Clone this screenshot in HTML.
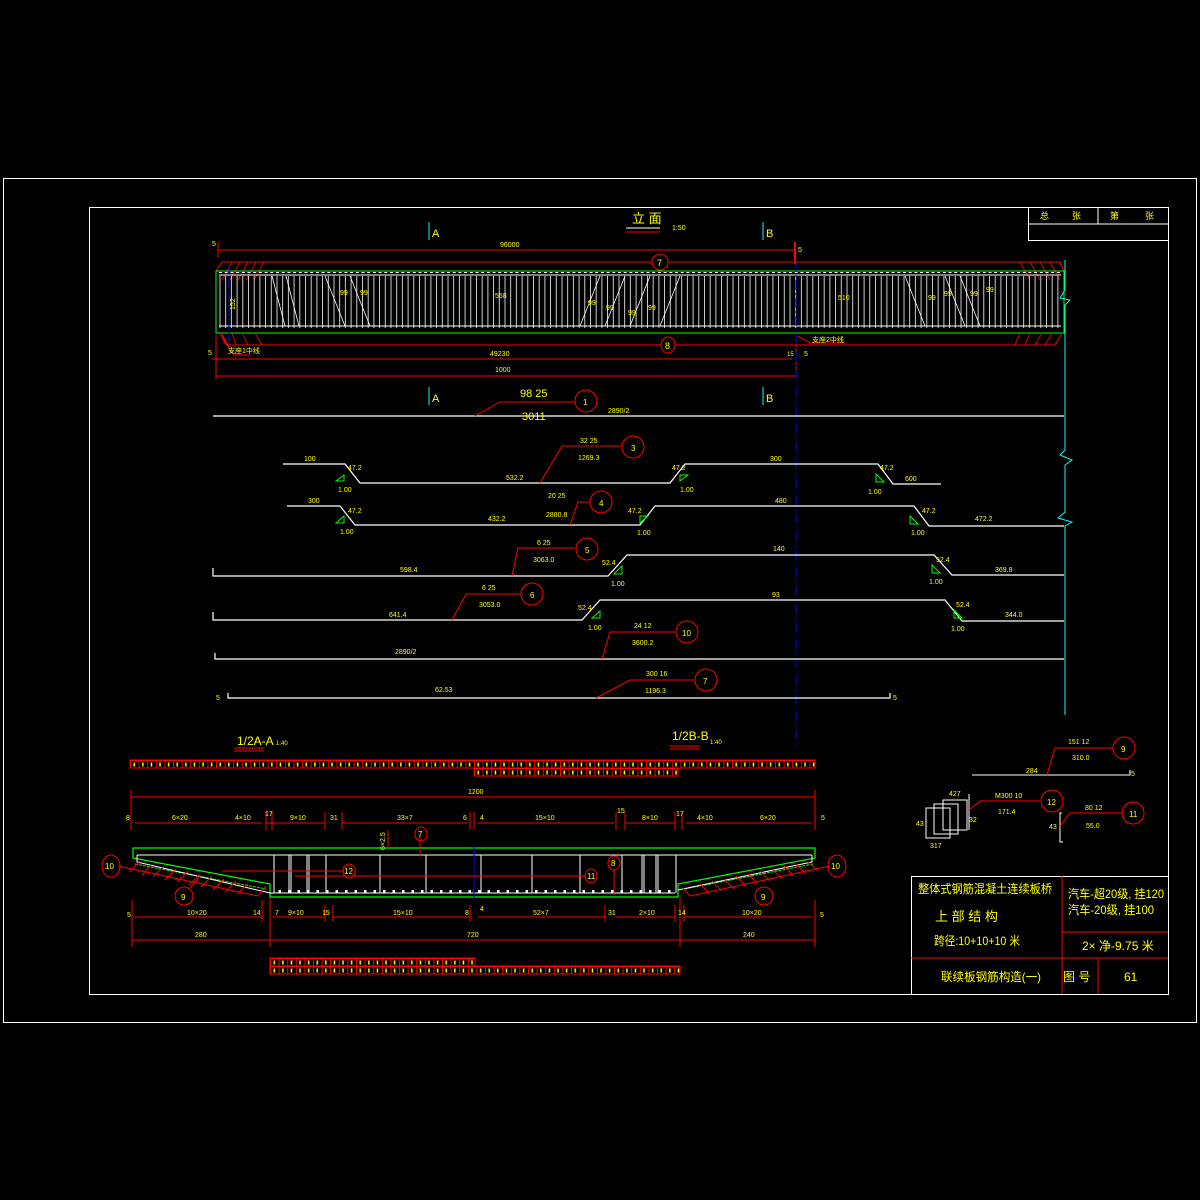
<!DOCTYPE html>
<html><head><meta charset="utf-8"><style>
html,body{margin:0;padding:0;background:#000;}
svg{display:block}
text{font-family:"Liberation Sans","Noto Sans CJK SC",sans-serif;fill:#ff0;}
</style></head><body>
<svg width="1200" height="1200" viewBox="0 0 1200 1200" xmlns="http://www.w3.org/2000/svg">
<defs>
<pattern id="vl" x="219" y="0" width="5.7" height="10" patternUnits="userSpaceOnUse">
<line x1="1" y1="0" x2="1" y2="10" stroke="#fff" stroke-width="0.8"/>
</pattern>
<pattern id="tk" x="219" y="0" width="5.7" height="10" patternUnits="userSpaceOnUse">
<rect x="0" y="0" width="3" height="3" fill="#fff"/>
</pattern>
<pattern id="cell" x="130" y="760" width="8.6" height="8" patternUnits="userSpaceOnUse">
<rect x="0.5" y="0.5" width="8.6" height="8" fill="none" stroke="#f00" stroke-width="1"/>
<rect x="3.5" y="2.5" width="1.5" height="4" fill="#ff0"/>
</pattern>
<pattern id="cell2" x="270" y="958" width="8.6" height="8" patternUnits="userSpaceOnUse">
<rect x="0.5" y="0.5" width="8.6" height="8" fill="none" stroke="#f00" stroke-width="1"/>
<rect x="3.5" y="2.5" width="1.5" height="4" fill="#ff0"/>
</pattern>
<pattern id="cell3" x="474" y="768" width="8.6" height="8" patternUnits="userSpaceOnUse">
<rect x="0.5" y="0.5" width="8.6" height="8" fill="none" stroke="#f00" stroke-width="1"/>
<rect x="3.5" y="2.5" width="1.5" height="4" fill="#ff0"/>
</pattern>
<pattern id="dots" x="0" y="0" width="9.5" height="10" patternUnits="userSpaceOnUse">
<rect x="3" y="0" width="2.5" height="2.5" fill="#fff"/>
</pattern>
</defs>
<rect width="1200" height="1200" fill="#000"/>
<rect x="3.5" y="178.5" width="1193" height="844" fill="none" stroke="#fff"/>
<rect x="89.5" y="207.5" width="1079" height="787" fill="none" stroke="#fff"/>
<rect x="1028.5" y="207.5" width="140" height="33" fill="none" stroke="#fff"/>
<line x1="1028" y1="224" x2="1168" y2="224" stroke="#fff"/>
<line x1="1098" y1="207" x2="1098" y2="224" stroke="#fff"/>
<text x="1040" y="219" font-size="9">总</text><text x="1072" y="219" font-size="9">张</text><text x="1110" y="219" font-size="9">第</text><text x="1145" y="219" font-size="9">张</text>

<text x="632" y="223" font-size="13">立 面</text><text x="672" y="230" font-size="7">1:50</text>
<line x1="626" y1="228" x2="660" y2="228" stroke="#fff"/>
<line x1="626" y1="232" x2="660" y2="232" stroke="#f00"/>
<line x1="429" y1="222" x2="429" y2="240" stroke="#0ff"/><text x="432" y="237" font-size="11">A</text>
<line x1="763" y1="222" x2="763" y2="240" stroke="#0ff"/><text x="766" y="237" font-size="11">B</text>
<line x1="218" y1="250" x2="795" y2="250" stroke="#f00"/>
<line x1="218" y1="242" x2="218" y2="258" stroke="#f00"/>
<line x1="795" y1="242" x2="795" y2="264" stroke="#f00" stroke-width="2"/>
<text x="212" y="246" font-size="7">5</text><text x="798" y="252" font-size="7">5</text>
<text x="500" y="247" font-size="7">96000</text>
<polyline points="216,271 222,262 1060,262 1064,271" fill="none" stroke="#f00"/>
<ellipse cx="660" cy="262" rx="8" ry="8" fill="#000" stroke="#f00"/><text x="657" y="266" font-size="9">7</text>
<g stroke="#f00" stroke-width="0.8">
<line x1="222" y1="280" x2="232" y2="262"/><line x1="230" y1="280" x2="240" y2="262"/><line x1="238" y1="280" x2="248" y2="262"/><line x1="246" y1="280" x2="256" y2="262"/><line x1="254" y1="280" x2="264" y2="262"/>
<line x1="1020" y1="262" x2="1030" y2="280"/><line x1="1030" y1="262" x2="1040" y2="280"/><line x1="1040" y1="262" x2="1050" y2="280"/><line x1="1050" y1="262" x2="1060" y2="280"/>
</g>
<rect x="216" y="271" width="848" height="62" fill="none" stroke="#0f0"/>
<rect x="219" y="276" width="842" height="52" fill="url(#vl)"/>
<line x1="219" y1="275" x2="1061" y2="275" stroke="#fff"/>
<line x1="219" y1="326" x2="1061" y2="326" stroke="#fff"/>
<rect x="219" y="272" width="842" height="3" fill="url(#tk)"/>
<rect x="219" y="327" width="842" height="3" fill="url(#tk)"/>
<g stroke="#fff" stroke-width="0.8">
<line x1="272" y1="276" x2="285" y2="326"/><line x1="286" y1="276" x2="299" y2="326"/>
<line x1="325" y1="276" x2="345" y2="326"/><line x1="350" y1="276" x2="370" y2="326"/>
<line x1="600" y1="276" x2="580" y2="326"/><line x1="625" y1="276" x2="605" y2="326"/><line x1="650" y1="276" x2="630" y2="326"/><line x1="680" y1="276" x2="660" y2="326"/>
<line x1="905" y1="276" x2="925" y2="326"/><line x1="945" y1="276" x2="965" y2="326"/><line x1="960" y1="276" x2="980" y2="326"/>
</g>
<g font-size="7" fill="#ff0">
<text x="235" y="310" transform="rotate(-90 235 310)">152</text>
<text x="340" y="295">99</text><text x="360" y="295">99</text><text x="495" y="298">558</text>
<text x="588" y="305">99</text><text x="606" y="310">99</text><text x="628" y="315">99</text><text x="648" y="310">99</text>
<text x="838" y="300">510</text><text x="928" y="300">99</text><text x="944" y="296">99</text><text x="970" y="296">99</text><text x="986" y="292">99</text>
</g>
<line x1="229" y1="266" x2="229" y2="345" stroke="#00f" stroke-dasharray="8,2,2,2"/>
<polyline points="1065,260 1065,290 1060,298 1070,300 1065,305 1065,450 1060,455 1072,460 1065,465 1065,512 1058,518 1072,522 1065,526 1065,715" fill="none" stroke="#0ff"/>
<polyline points="220,333 226,345 1055,345 1062,333" fill="none" stroke="#f00"/>
<g stroke="#f00" stroke-width="0.8">
<line x1="222" y1="333" x2="226" y2="345"/><line x1="232" y1="333" x2="236" y2="345"/><line x1="242" y1="333" x2="248" y2="345"/><line x1="255" y1="333" x2="262" y2="345"/>
<line x1="1015" y1="345" x2="1020" y2="333"/><line x1="1025" y1="345" x2="1030" y2="333"/><line x1="1035" y1="345" x2="1042" y2="333"/><line x1="1045" y1="345" x2="1052" y2="333"/>
</g>
<ellipse cx="668" cy="345" rx="7" ry="8" fill="#000" stroke="#f00"/><text x="665" y="349" font-size="9">8</text>
<polyline points="223,336 230,350 235,355 250,355" fill="none" stroke="#f00"/>
<text x="228" y="353" font-size="7">支座1中线</text>
<polyline points="798,336 810,343 845,343" fill="none" stroke="#f00"/>
<text x="812" y="342" font-size="7">支座2中线</text>
<line x1="212" y1="359" x2="792" y2="359" stroke="#f00"/>
<text x="490" y="356" font-size="7">49230</text><text x="787" y="356" font-size="6">15</text>
<text x="208" y="355" font-size="7">5</text><text x="804" y="356" font-size="7">5</text>
<line x1="216" y1="376" x2="796" y2="376" stroke="#f00"/>
<line x1="216" y1="335" x2="216" y2="380" stroke="#f00"/>
<line x1="796" y1="335" x2="796" y2="380" stroke="#f00"/>
<text x="495" y="372" font-size="7">1000</text>
<line x1="796" y1="262" x2="796" y2="748" stroke="#00f" stroke-dasharray="10,3,2,3"/>

<line x1="429" y1="387" x2="429" y2="405" stroke="#0ff"/><text x="432" y="402" font-size="11">A</text>
<line x1="763" y1="387" x2="763" y2="405" stroke="#0ff"/><text x="766" y="402" font-size="11">B</text>

<g fill="none" stroke="#fff" stroke-width="1.2">
<line x1="213" y1="416" x2="1064" y2="416"/>
<polyline points="283,464 345,464 360,483 670,483 685,464 878,464 893,484 941,484"/>
<polyline points="287,506 340,506 355,525 640,525 655,506 914,506 929,526 1064,526"/>
<polyline points="213,568 213,576 608,576 627,555 934,555 952,575 1064,575"/>
<polyline points="213,612 213,620 582,620 600,600 945,600 962,621 1064,621"/>
<polyline points="215,653 215,659 1064,659"/>
<polyline points="228,693 228,698 890,698 890,693"/>
</g>
<g fill="none" stroke="#f00">
<polyline points="475,416 500,402 575,402"/><ellipse cx="586" cy="401" rx="11" ry="11"/>
<polyline points="540,483 562,446 622,446"/><ellipse cx="633" cy="447" rx="11" ry="11"/>
<polyline points="570,525 578,502 590,502"/><ellipse cx="601" cy="502" rx="11" ry="11"/>
<polyline points="512,576 518,548 575,548"/><ellipse cx="587" cy="549" rx="11" ry="11"/>
<polyline points="452,620 466,594 521,594"/><ellipse cx="532" cy="594" rx="11" ry="11"/>
<polyline points="602,659 610,632 675,632"/><ellipse cx="687" cy="632" rx="11" ry="11"/>
<polyline points="596,698 630,680 694,680"/><ellipse cx="706" cy="680" rx="11" ry="11"/>
</g>
<g font-size="8">
<text x="583" y="405">1</text><text x="631" y="451">3</text><text x="599" y="506">4</text><text x="585" y="553">5</text><text x="530" y="598">6</text><text x="682" y="636">10</text><text x="703" y="684">7</text>
</g>
<g font-size="11"><text x="520" y="397">98  25</text><text x="522" y="420">3011</text></g>
<g font-size="7">
<text x="608" y="413">2890/2</text>
<text x="580" y="443">32  25</text><text x="578" y="460">1269.3</text>
<text x="548" y="498">20  25</text><text x="546" y="517">2880.8</text>
<text x="537" y="545">6  25</text><text x="533" y="562">3063.0</text>
<text x="482" y="590">6  25</text><text x="479" y="607">3053.0</text>
<text x="634" y="628">24  12</text><text x="632" y="645">3600.2</text>
<text x="646" y="676">300  16</text><text x="645" y="693">1196.3</text>
<text x="304" y="461">100</text><text x="506" y="480">532.2</text><text x="770" y="461">300</text><text x="905" y="481">600</text>
<text x="308" y="503">300</text><text x="488" y="521">432.2</text><text x="775" y="503">480</text><text x="975" y="521">472.2</text>
<text x="400" y="572">598.4</text><text x="773" y="551">140</text><text x="995" y="572">369.8</text>
<text x="389" y="617">641.4</text><text x="772" y="597">93</text><text x="1005" y="617">344.0</text>
<text x="395" y="654">2890/2</text><text x="435" y="692">62.53</text>
<text x="216" y="700">5</text><text x="893" y="700">5</text>
<text x="338" y="492">1.00</text><text x="680" y="492">1.00</text><text x="868" y="494">1.00</text>
<text x="340" y="534">1.00</text><text x="637" y="535">1.00</text><text x="911" y="535">1.00</text>
<text x="611" y="586">1.00</text><text x="929" y="584">1.00</text>
<text x="588" y="630">1.00</text><text x="951" y="631">1.00</text>
<text x="348" y="470">47.2</text><text x="672" y="470">47.2</text><text x="880" y="470">47.2</text>
<text x="348" y="513">47.2</text><text x="628" y="513">47.2</text><text x="922" y="513">47.2</text>
<text x="602" y="565">52.4</text><text x="936" y="562">52.4</text>
<text x="578" y="610">52.4</text><text x="956" y="607">52.4</text>
</g>
<g fill="none" stroke="#0f0">
<polygon points="336,481 344,475 344,481"/><polygon points="680,481 688,475 680,475"/><polygon points="876,482 884,482 876,474"/>
<polygon points="336,523 344,516 344,523"/><polygon points="640,523 648,516 640,516"/><polygon points="910,524 918,524 910,516"/>
<polygon points="614,574 622,566 622,574"/><polygon points="932,573 940,573 932,565"/>
<polygon points="592,618 600,611 600,618"/><polygon points="954,618 962,618 954,610"/>
</g>

<polyline points="972,775 1130,775 1130,770" fill="none" stroke="#fff"/>
<polyline points="1047,775 1055,748 1113,748" fill="none" stroke="#f00"/>
<ellipse cx="1124" cy="748" rx="11" ry="11" fill="none" stroke="#f00"/><text x="1121" y="752" font-size="8">9</text>
<g font-size="7"><text x="1068" y="744">151   12</text><text x="1072" y="760">310.0</text><text x="1026" y="773">284</text><text x="1131" y="776">5</text>
<text x="995" y="798">M300    10</text><text x="998" y="814">171.4</text><text x="949" y="796">427</text><text x="969" y="822">32</text><text x="916" y="826">43</text><text x="930" y="848">317</text>
<text x="1085" y="810">80   12</text><text x="1086" y="828">55.0</text><text x="1049" y="829">43</text></g>
<g fill="none" stroke="#fff"><rect x="926" y="808" width="24" height="30"/><rect x="934" y="804" width="24" height="30"/><rect x="943" y="800" width="24" height="30"/>
<line x1="969" y1="794" x2="969" y2="830"/><polyline points="1062,813 1060,813 1060,842 1063,842"/></g>
<polyline points="969,810 980,801 1040,801" fill="none" stroke="#f00"/>
<ellipse cx="1052" cy="801" rx="11" ry="11" fill="none" stroke="#f00"/><text x="1047" y="805" font-size="8">12</text>
<polyline points="1060,826 1070,813 1122,813" fill="none" stroke="#f00"/>
<ellipse cx="1133" cy="813" rx="11" ry="11" fill="none" stroke="#f00"/><text x="1129" y="817" font-size="8">11</text>

<text x="237" y="745" font-size="12">1/2A-A</text><text x="276" y="745" font-size="6">1:40</text>
<line x1="234" y1="748" x2="264" y2="748" stroke="#f00"/><line x1="234" y1="751" x2="264" y2="751" stroke="#f00"/>
<text x="672" y="740" font-size="12">1/2B-B</text><text x="710" y="744" font-size="6">1:40</text>
<line x1="670" y1="746" x2="700" y2="746" stroke="#f00"/><line x1="670" y1="749" x2="700" y2="749" stroke="#f00"/>
<rect x="130" y="760" width="685" height="8" fill="url(#cell)" stroke="#f00"/>
<rect x="474" y="768" width="204" height="8" fill="url(#cell3)" stroke="#f00"/>
<g stroke="#f00" fill="none">
<line x1="131" y1="797" x2="815" y2="797"/><line x1="131" y1="790" x2="131" y2="830"/><line x1="815" y1="790" x2="815" y2="830"/>
<line x1="135" y1="823" x2="262" y2="823"/><line x1="266" y1="823" x2="325" y2="823"/>
<line x1="342" y1="823" x2="468" y2="823"/><line x1="478" y1="823" x2="614" y2="823"/><line x1="625" y1="823" x2="675" y2="823"/><line x1="686" y1="823" x2="812" y2="823"/>
<line x1="266" y1="812" x2="266" y2="830"/><line x1="272" y1="812" x2="272" y2="830"/><line x1="325" y1="812" x2="325" y2="830"/><line x1="342" y1="812" x2="342" y2="830"/>
<line x1="470" y1="812" x2="470" y2="830"/><line x1="474" y1="812" x2="474" y2="830"/><line x1="616" y1="812" x2="616" y2="830"/><line x1="625" y1="812" x2="625" y2="830"/><line x1="675" y1="812" x2="675" y2="830"/><line x1="682" y1="812" x2="682" y2="830"/>
<line x1="135" y1="917" x2="262" y2="917"/><line x1="273" y1="917" x2="325" y2="917"/><line x1="333" y1="917" x2="470" y2="917"/><line x1="478" y1="917" x2="605" y2="917"/><line x1="615" y1="917" x2="675" y2="917"/><line x1="685" y1="917" x2="812" y2="917"/>
<line x1="132" y1="940" x2="270" y2="940"/><line x1="270" y1="940" x2="680" y2="940"/><line x1="680" y1="940" x2="815" y2="940"/>
<line x1="132" y1="900" x2="132" y2="947"/><line x1="270" y1="895" x2="270" y2="947"/><line x1="680" y1="895" x2="680" y2="947"/><line x1="815" y1="900" x2="815" y2="947"/>
<line x1="262" y1="900" x2="262" y2="922"/><line x1="325" y1="905" x2="325" y2="922"/><line x1="333" y1="905" x2="333" y2="922"/><line x1="470" y1="905" x2="470" y2="922"/><line x1="605" y1="905" x2="605" y2="922"/><line x1="675" y1="905" x2="675" y2="922"/><line x1="684" y1="905" x2="684" y2="922"/>
</g>
<g font-size="7">
<text x="468" y="794">1200</text>
<text x="126" y="820">8</text><text x="172" y="820">6×20</text><text x="235" y="820">4×10</text><text x="265" y="816">17</text><text x="290" y="820">9×10</text><text x="330" y="820">31</text><text x="397" y="820">33×7</text><text x="463" y="820">6</text><text x="480" y="820">4</text><text x="535" y="820">15×10</text><text x="617" y="813">15</text><text x="642" y="820">8×10</text><text x="676" y="816">17</text><text x="697" y="820">4×10</text><text x="760" y="820">6×20</text><text x="821" y="820">5</text>
<text x="127" y="917">5</text><text x="187" y="915">10×20</text><text x="253" y="915">14</text><text x="275" y="915">7</text><text x="288" y="915">9×10</text><text x="322" y="915">15</text><text x="393" y="915">15×10</text><text x="465" y="915">8</text><text x="480" y="911">4</text><text x="533" y="915">52×7</text><text x="608" y="915">31</text><text x="639" y="915">2×10</text><text x="678" y="915">14</text><text x="742" y="915">10×20</text><text x="820" y="917">5</text>
<text x="195" y="937">280</text><text x="467" y="937">720</text><text x="743" y="937">240</text>
<text x="385" y="850" transform="rotate(-90 385 850)">6×2.5</text>
</g>
<polygon points="133,848 815,848 815,858 678,884 678,897 270,897 270,884 133,858" fill="none" stroke="#0f0" stroke-width="1.2"/>
<polyline points="135,864 266,889" fill="none" stroke="#0f0" stroke-dasharray="3,1"/>
<polyline points="813,864 684,889" fill="none" stroke="#0f0" stroke-dasharray="3,1"/>
<polyline points="137,855 812,855" stroke="#fff" fill="none"/>
<rect x="137" y="853" width="675" height="3" fill="url(#dots)"/>
<polyline points="137,855 137,862 270,893 675,893" stroke="#fff" fill="none"/>
<rect x="272" y="890" width="405" height="3" fill="url(#dots)"/>
<polyline points="812,855 812,862 678,890" stroke="#fff" fill="none"/>
<g stroke="#fff">
<line x1="274" y1="855" x2="274" y2="893"/><line x1="289" y1="855" x2="289" y2="893"/><line x1="291" y1="855" x2="291" y2="893"/><line x1="307" y1="855" x2="307" y2="893"/><line x1="309" y1="855" x2="309" y2="893"/><line x1="326" y1="855" x2="326" y2="893"/>
<line x1="380" y1="855" x2="380" y2="893"/><line x1="426" y1="855" x2="426" y2="893"/><line x1="481" y1="855" x2="481" y2="893"/><line x1="532" y1="855" x2="532" y2="893"/><line x1="580" y1="855" x2="580" y2="893"/><line x1="622" y1="855" x2="622" y2="893"/><line x1="642" y1="855" x2="642" y2="893"/><line x1="644" y1="855" x2="644" y2="893"/><line x1="656" y1="855" x2="656" y2="893"/><line x1="658" y1="855" x2="658" y2="893"/><line x1="676" y1="855" x2="676" y2="893"/>
</g>
<line x1="474" y1="845" x2="474" y2="900" stroke="#00f"/>
<g stroke="#f00" fill="none">
<polyline points="118,866 258,896 266,886"/><polyline points="830,866 690,896 683,888"/>
<line x1="140" y1="861" x2="130" y2="872"/><line x1="152" y1="864" x2="142" y2="875"/><line x1="164" y1="866" x2="153" y2="877"/><line x1="176" y1="869" x2="165" y2="880"/><line x1="188" y1="871" x2="177" y2="882"/><line x1="200" y1="874" x2="189" y2="885"/><line x1="212" y1="876" x2="201" y2="887"/><line x1="224" y1="879" x2="213" y2="890"/><line x1="236" y1="881" x2="225" y2="892"/><line x1="248" y1="884" x2="237" y2="894"/>
<line x1="700" y1="884" x2="710" y2="894"/><line x1="712" y1="881" x2="722" y2="891"/><line x1="724" y1="879" x2="734" y2="889"/><line x1="736" y1="876" x2="746" y2="886"/><line x1="748" y1="874" x2="758" y2="884"/><line x1="760" y1="871" x2="770" y2="881"/><line x1="772" y1="869" x2="782" y2="879"/><line x1="784" y1="866" x2="794" y2="876"/><line x1="796" y1="864" x2="806" y2="874"/><line x1="808" y1="862" x2="818" y2="871"/>
<ellipse cx="111" cy="866" rx="9" ry="11"/><ellipse cx="837" cy="866" rx="9" ry="11"/>
<ellipse cx="184" cy="896" rx="9" ry="9"/><ellipse cx="764" cy="896" rx="9" ry="9"/>
<line x1="190" y1="888" x2="200" y2="876"/>
<line x1="222" y1="871" x2="344" y2="871"/><ellipse cx="349" cy="871" rx="6" ry="7"/>
<line x1="295" y1="876" x2="586" y2="876"/><ellipse cx="591" cy="876" rx="6" ry="7"/>
<ellipse cx="614" cy="863" rx="6" ry="7"/><line x1="614" y1="870" x2="614" y2="895"/>
<line x1="420" y1="836" x2="420" y2="856"/><ellipse cx="421" cy="834" rx="6" ry="7"/>
<line x1="388" y1="830" x2="388" y2="848"/>
</g>
<g font-size="8"><text x="105" y="869">10</text><text x="831" y="869">10</text><text x="181" y="900">9</text><text x="761" y="900">9</text>
<text x="344" y="874">12</text><text x="587" y="879">11</text><text x="611" y="866">8</text><text x="418" y="837">7</text></g>
<rect x="270" y="958" width="205" height="8" fill="url(#cell2)" stroke="#f00"/>
<rect x="270" y="966" width="410" height="8" fill="url(#cell2)" stroke="#f00"/>

<rect x="911.5" y="876.5" width="257" height="118" fill="none" stroke="#fff"/>
<line x1="911" y1="958" x2="1168" y2="958" stroke="#f00"/>
<line x1="1062" y1="876" x2="1062" y2="994" stroke="#f00"/>
<line x1="1062" y1="932" x2="1168" y2="932" stroke="#f00"/>
<line x1="1098" y1="958" x2="1098" y2="994" stroke="#f00"/>
<text x="918" y="893" font-size="12" textLength="134" lengthAdjust="spacingAndGlyphs">整体式钢筋混凝土连续板桥</text>
<text x="935" y="921" font-size="13">上  部  结  构</text>
<text x="934" y="945" font-size="12" textLength="86" lengthAdjust="spacingAndGlyphs">跨径:10+10+10   米</text>
<text x="1068" y="898" font-size="12" textLength="96" lengthAdjust="spacingAndGlyphs">汽车-超20级, 挂120</text>
<text x="1068" y="914" font-size="12" textLength="86" lengthAdjust="spacingAndGlyphs">汽车-20级, 挂100</text>
<text x="1082" y="950" font-size="12">2× 净-9.75  米</text>
<text x="941" y="981" font-size="12" textLength="100" lengthAdjust="spacingAndGlyphs">联续板钢筋构造(一)</text>
<text x="1063" y="981" font-size="12">图    号</text>
<text x="1124" y="981" font-size="12">61</text>
</svg>
</body></html>
